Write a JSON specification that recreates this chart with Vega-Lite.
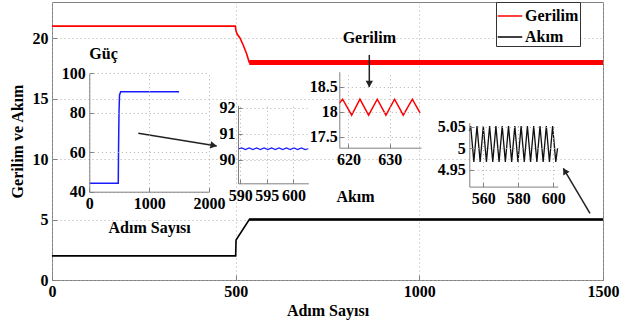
{
  "$schema": "https://vega.github.io/schema/vega-lite/v6.json",
  "width": 551,
  "height": 278,
  "autosize": {"type": "none"},
  "padding": {"left": 52, "top": 2, "right": 35, "bottom": 47},
  "background": "white",
  "config": {
    "font": "Liberation Serif",
    "view": {"stroke": "#808080", "strokeWidth": 1},
    "axis": {
      "labelFont": "Liberation Serif", "labelFontSize": 16, "labelFontWeight": "bold", "labelColor": "black",
      "titleFont": "Liberation Serif", "titleFontSize": 16, "titleFontWeight": "bold", "titleColor": "black",
      "gridColor": "#b0b0b0", "gridDash": [1, 3], "gridOpacity": 1, "gridWidth": 1,
      "domainColor": "#808080", "tickColor": "#808080",
      "labelFlush": false, "labelOverlap": false, "labelBound": false
    }
  },
  "datasets": {
    "main": [
      {"series": "Gerilim", "step": 0, "value": 21.0},
      {"series": "Gerilim", "step": 499, "value": 21.0},
      {"series": "Gerilim", "step": 501, "value": 20.6},
      {"series": "Gerilim", "step": 504, "value": 20.35},
      {"series": "Gerilim", "step": 512, "value": 20.0},
      {"series": "Gerilim", "step": 521, "value": 19.4},
      {"series": "Gerilim", "step": 530, "value": 18.7},
      {"series": "Gerilim", "step": 535, "value": 18.2},
      {"series": "Gerilim", "step": 537, "value": 18.0},
      {"series": "Gerilim", "step": 1500, "value": 18.0},
      {"series": "Akım", "step": 0, "value": 2.0},
      {"series": "Akım", "step": 500, "value": 2.0},
      {"series": "Akım", "step": 501, "value": 3.3},
      {"series": "Akım", "step": 537, "value": 5.0},
      {"series": "Akım", "step": 1500, "value": 5.0}
    ],
    "guc": [
      {"step": 0, "value": 44.3},
      {"step": 484, "value": 44.3},
      {"step": 488, "value": 60},
      {"step": 496, "value": 80},
      {"step": 505, "value": 89},
      {"step": 525, "value": 90.7},
      {"step": 1500, "value": 90.7}
    ],
    "gucZoom": [
      {"step": 589.6, "value": 90.42},
      {"step": 590.3, "value": 90.46},
      {"step": 591.0, "value": 90.40},
      {"step": 591.7, "value": 90.46},
      {"step": 592.4, "value": 90.40},
      {"step": 593.1, "value": 90.46},
      {"step": 593.8, "value": 90.40},
      {"step": 594.5, "value": 90.46},
      {"step": 595.2, "value": 90.40},
      {"step": 595.9, "value": 90.46},
      {"step": 596.6, "value": 90.40},
      {"step": 597.3, "value": 90.46},
      {"step": 598.0, "value": 90.40},
      {"step": 598.7, "value": 90.46},
      {"step": 599.4, "value": 90.40},
      {"step": 600.1, "value": 90.46},
      {"step": 600.8, "value": 90.40},
      {"step": 601.5, "value": 90.46},
      {"step": 602.2, "value": 90.40},
      {"step": 602.8, "value": 90.43}
    ],
    "gerilimZoom": [
      {"step": 617.8, "value": 18.17},
      {"step": 618.6, "value": 18.25},
      {"step": 620.8, "value": 17.93},
      {"step": 622.8, "value": 18.25},
      {"step": 624.9, "value": 17.93},
      {"step": 627.0, "value": 18.25},
      {"step": 629.1, "value": 17.93},
      {"step": 631.2, "value": 18.25},
      {"step": 633.3, "value": 17.93},
      {"step": 635.5, "value": 18.25},
      {"step": 637.4, "value": 17.97}
    ],
    "akimZoom": [
      {"step": 552.0, "value": 5.04},
      {"step": 552.8, "value": 5.052},
      {"step": 554.6, "value": 4.968},
      {"step": 556.4, "value": 5.052},
      {"step": 558.2, "value": 4.968},
      {"step": 560.0, "value": 5.052},
      {"step": 561.8, "value": 4.968},
      {"step": 563.6, "value": 5.052},
      {"step": 565.4, "value": 4.968},
      {"step": 567.2, "value": 5.052},
      {"step": 569.0, "value": 4.968},
      {"step": 570.8, "value": 5.052},
      {"step": 572.6, "value": 4.968},
      {"step": 574.4, "value": 5.052},
      {"step": 576.2, "value": 4.968},
      {"step": 578.0, "value": 5.052},
      {"step": 579.8, "value": 4.968},
      {"step": 581.6, "value": 5.052},
      {"step": 583.4, "value": 4.968},
      {"step": 585.2, "value": 5.052},
      {"step": 587.0, "value": 4.968},
      {"step": 588.8, "value": 5.052},
      {"step": 590.6, "value": 4.968},
      {"step": 592.4, "value": 5.052},
      {"step": 594.2, "value": 4.968},
      {"step": 596.0, "value": 5.052},
      {"step": 597.8, "value": 4.968},
      {"step": 599.6, "value": 5.052},
      {"step": 601.4, "value": 4.968},
      {"step": 602.4, "value": 5.0}
    ],
    "arrows": [
      {"name": "guc", "x": 235, "y": 12.14, "x2": 448.4, "y2": 11.09},
      {"name": "gerilim", "x": 863.8, "y": 18.62, "x2": 863.8, "y2": 15.97},
      {"name": "akim", "x": 1464.6, "y": 5.52, "x2": 1392, "y2": 9.24}
    ]
  },
  "layer": [
    {
      "layer": [
        {
          "mark": {"type": "rect", "fill": "white", "stroke": null},
          "encoding": {
            "x": {"datum": 0, "type": "quantitative",
              "scale": {"domain": [0, 2000], "range": [37.3, 157], "nice": false, "zero": false},
              "axis": {"orient": "top", "grid": true, "labels": false, "ticks": false, "domain": false, "title": null, "values": [0, 1000, 2000], "zindex": 1}},
            "x2": {"datum": 2000},
            "y": {"datum": 40, "type": "quantitative",
              "scale": {"domain": [40, 100], "range": [189.7, 71.3], "nice": false, "zero": false},
              "axis": {"orient": "left", "offset": -37.3, "grid": true, "values": [40, 60, 80, 100], "format": "d", "title": "Güç", "titleAngle": 0, "titleX": 13.7, "titleY": 51, "titleAlign": "center", "titleBaseline": "middle", "tickSize": -4, "labelPadding": 8, "zindex": 1}},
            "y2": {"datum": 100}
          }
        },
        {
          "data": {"name": "guc"},
          "mark": {"type": "line", "color": "#1a1aff", "strokeWidth": 1.5},
          "encoding": {
            "x": {"field": "step", "type": "quantitative",
              "axis": {"orient": "bottom", "offset": -88.3, "grid": false, "values": [0, 1000, 2000], "format": "d", "title": "Adım Sayısı", "titlePadding": 8, "tickSize": -4, "labelPadding": 8, "zindex": 1}},
            "y": {"field": "value", "type": "quantitative"}
          }
        }
      ],
      "resolve": {"axis": {"x": "independent"}}
    },
    {
      "layer": [
        {
          "mark": {"type": "rect", "fill": "white", "stroke": null},
          "encoding": {
            "x": {"datum": 589.6, "type": "quantitative",
              "scale": {"domain": [589.6, 602.8], "range": [186, 256.3], "nice": false, "zero": false},
              "axis": {"orient": "top", "grid": true, "labels": false, "ticks": false, "domain": false, "title": null, "values": [590, 595, 600], "zindex": 1}},
            "x2": {"datum": 602.8},
            "y": {"datum": 89.1, "type": "quantitative",
              "scale": {"domain": [89.1, 92.1], "range": [181.3, 103.3], "nice": false, "zero": false},
              "axis": {"orient": "left", "offset": -186, "grid": true, "values": [90, 91, 92], "format": "d", "title": null, "tickSize": -4, "labelPadding": 7, "zindex": 1}},
            "y2": {"datum": 92.1}
          }
        },
        {
          "data": {"name": "gucZoom"},
          "mark": {"type": "line", "color": "#1a1aff", "strokeWidth": 1.2},
          "encoding": {
            "x": {"field": "step", "type": "quantitative",
              "axis": {"orient": "bottom", "offset": -96.7, "grid": false, "values": [590, 595, 600], "format": "d", "title": null, "tickSize": -4, "labelPadding": 8, "zindex": 1}},
            "y": {"field": "value", "type": "quantitative"}
          }
        }
      ],
      "resolve": {"axis": {"x": "independent"}}
    },
    {
      "layer": [
        {
          "mark": {"type": "rect", "fill": "white", "stroke": null},
          "encoding": {
            "x": {"datum": 617.8, "type": "quantitative",
              "scale": {"domain": [617.8, 637.6], "range": [287.3, 369], "nice": false, "zero": false},
              "axis": {"orient": "top", "grid": true, "labels": false, "ticks": false, "domain": false, "title": null, "values": [620, 630], "zindex": 1}},
            "x2": {"datum": 637.6},
            "y": {"datum": 17.28, "type": "quantitative",
              "scale": {"domain": [17.28, 18.8], "range": [145.7, 69.7], "nice": false, "zero": false},
              "axis": {"orient": "left", "offset": -287.3, "grid": true, "values": [17.5, 18, 18.5], "format": "~g", "title": "Gerilim", "titleAngle": 0, "titleX": 29.5, "titleY": 35.5, "titleAlign": "center", "titleBaseline": "middle", "tickSize": -4, "labelPadding": 6, "zindex": 1}},
            "y2": {"datum": 18.8}
          }
        },
        {
          "data": {"name": "gerilimZoom"},
          "mark": {"type": "line", "color": "#ff0000", "strokeWidth": 1.5},
          "encoding": {
            "x": {"field": "step", "type": "quantitative",
              "axis": {"orient": "bottom", "offset": -132.3, "grid": false, "values": [620, 630], "format": "d", "title": null, "tickSize": -4, "labelPadding": 8, "zindex": 1}},
            "y": {"field": "value", "type": "quantitative"}
          }
        }
      ],
      "resolve": {"axis": {"x": "independent"}}
    },
    {
      "layer": [
        {
          "mark": {"type": "rect", "fill": "white", "stroke": null},
          "encoding": {
            "x": {"datum": 552, "type": "quantitative",
              "scale": {"domain": [552, 602.5], "range": [417.3, 505.7], "nice": false, "zero": false},
              "axis": {"orient": "top", "grid": true, "labels": false, "ticks": false, "domain": false, "title": null, "values": [560, 580, 600], "zindex": 1}},
            "x2": {"datum": 602.5},
            "y": {"datum": 4.91, "type": "quantitative",
              "scale": {"domain": [4.91, 5.06], "range": [184.6, 120.7], "nice": false, "zero": false},
              "axis": {"orient": "left", "offset": -417.3, "grid": true, "values": [4.95, 5, 5.05], "format": "~g", "title": "Akım", "titleAngle": 0, "titleX": -114.3, "titleY": 194.7, "titleAlign": "center", "titleBaseline": "middle", "tickSize": -4, "labelPadding": 8, "zindex": 1}},
            "y2": {"datum": 5.06}
          }
        },
        {
          "data": {"name": "akimZoom"},
          "mark": {"type": "line", "color": "#111111", "strokeWidth": 1.3},
          "encoding": {
            "x": {"field": "step", "type": "quantitative",
              "axis": {"orient": "bottom", "offset": -93.4, "grid": false, "values": [560, 580, 600], "format": "d", "title": null, "tickSize": -4, "labelPadding": 8, "zindex": 1}},
            "y": {"field": "value", "type": "quantitative"}
          }
        }
      ],
      "resolve": {"axis": {"x": "independent"}}
    },
    {
      "layer": [
        {
          "data": {"name": "main"},
          "mark": {"type": "line", "strokeWidth": 1.6},
          "encoding": {
            "x": {"field": "step", "type": "quantitative",
              "scale": {"domain": [0, 1500], "nice": false, "zero": false},
              "axis": {"orient": "bottom", "values": [0, 500, 1000, 1500], "format": "d", "grid": true, "domain": false, "title": "Adım Sayısı", "tickSize": -5, "labelPadding": 8, "titlePadding": 3, "zindex": 0}},
            "y": {"field": "value", "type": "quantitative",
              "scale": {"domain": [0, 23], "nice": false, "zero": false},
              "axis": {"orient": "left", "values": [0, 5, 10, 15, 20], "format": "d", "grid": true, "domain": false, "title": "Gerilim ve Akım", "tickSize": -5, "labelPadding": 9, "titlePadding": 7, "zindex": 0}},
            "color": {"field": "series", "type": "nominal",
              "scale": {"domain": ["Gerilim", "Akım"], "range": ["#ff0000", "#000000"]},
              "legend": {"orient": "none", "legendX": 444, "legendY": 0, "title": null, "symbolType": "stroke", "symbolSize": 600, "symbolStrokeWidth": 1.5, "labelFont": "Liberation Serif", "labelFontSize": 16, "labelFontWeight": "bold", "labelColor": "black", "strokeColor": "#333333", "fillColor": "white", "padding": 1, "rowPadding": -6, "labelOffset": 2}}
          }
        },
        {
          "data": {"name": "main"},
          "transform": [{"filter": "datum.series === 'Gerilim' && datum.step >= 537"}],
          "mark": {"type": "line", "strokeWidth": 5},
          "encoding": {
            "x": {"field": "step", "type": "quantitative"},
            "y": {"field": "value", "type": "quantitative"},
            "color": {"field": "series", "type": "nominal"}
          }
        },
        {
          "data": {"name": "main"},
          "transform": [{"filter": "datum.series === 'Akım' && datum.step >= 537"}],
          "mark": {"type": "line", "strokeWidth": 2.5},
          "encoding": {
            "x": {"field": "step", "type": "quantitative"},
            "y": {"field": "value", "type": "quantitative"},
            "color": {"field": "series", "type": "nominal"}
          }
        },
        {
          "data": {"name": "arrows"},
          "mark": {"type": "rule", "color": "#222222", "strokeWidth": 1.5},
          "encoding": {
            "x": {"field": "x", "type": "quantitative"},
            "x2": {"field": "x2"},
            "y": {"field": "y", "type": "quantitative"},
            "y2": {"field": "y2"}
          }
        },
        {
          "data": {"name": "arrows"},
          "transform": [{"filter": "datum.name === 'guc'"}],
          "mark": {"type": "point", "shape": "triangle-right", "filled": true, "color": "#222222", "size": 55, "angle": 9.5, "xOffset": -3, "yOffset": -0.5, "opacity": 1},
          "encoding": {
            "x": {"field": "x2", "type": "quantitative"},
            "y": {"field": "y2", "type": "quantitative"}
          }
        },
        {
          "data": {"name": "arrows"},
          "transform": [{"filter": "datum.name === 'gerilim'"}],
          "mark": {"type": "point", "shape": "triangle-right", "filled": true, "color": "#222222", "size": 55, "angle": 90, "yOffset": -3, "opacity": 1},
          "encoding": {
            "x": {"field": "x2", "type": "quantitative"},
            "y": {"field": "y2", "type": "quantitative"}
          }
        },
        {
          "data": {"name": "arrows"},
          "transform": [{"filter": "datum.name === 'akim'"}],
          "mark": {"type": "point", "shape": "triangle-right", "filled": true, "color": "#222222", "size": 55, "angle": 239.3, "xOffset": 1.5, "yOffset": 2.6, "opacity": 1},
          "encoding": {
            "x": {"field": "x2", "type": "quantitative"},
            "y": {"field": "y2", "type": "quantitative"}
          }
        }
      ]
    }
  ],
  "resolve": {"scale": {"x": "independent", "y": "independent"}}
}
